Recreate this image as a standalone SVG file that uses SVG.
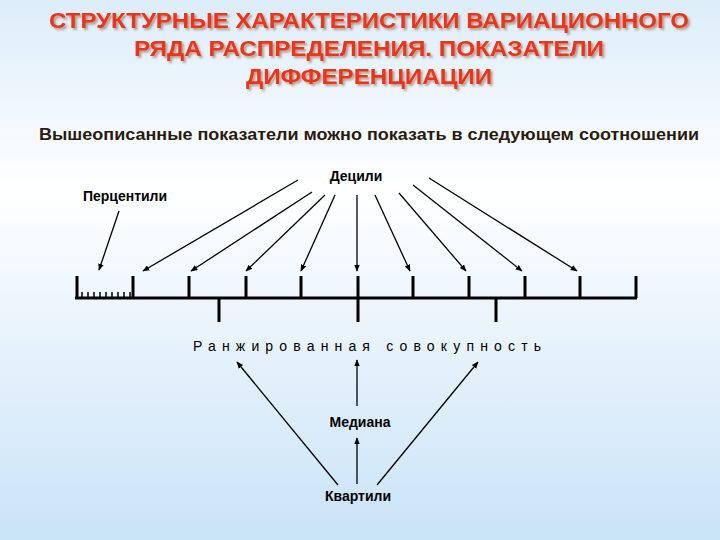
<svg xmlns="http://www.w3.org/2000/svg" width="720" height="540" viewBox="0 0 720 540">
<defs>
<linearGradient id="bg" x1="0" y1="0" x2="0" y2="1">
<stop offset="0" stop-color="#dcedf9"/><stop offset="0.35" stop-color="#ffffff"/><stop offset="1" stop-color="#c9e3f7"/>
</linearGradient>
<filter id="sh" x="-5%" y="-20%" width="110%" height="150%">
<feDropShadow dx="2" dy="2" stdDeviation="0.8" flood-color="#7a2a10" flood-opacity="0.45"/>
</filter>
<marker id="ah" viewBox="0 0 10 10" refX="9" refY="5" markerWidth="7" markerHeight="7" orient="auto" markerUnits="userSpaceOnUse">
<path d="M0,1 L10,5 L0,9 z" fill="#000"/></marker>
<style>
.t{font-family:"Liberation Sans",Arial,sans-serif;font-weight:bold;font-size:22px;fill:#e8341c;text-anchor:middle}
.l{font-family:"Liberation Sans",Arial,sans-serif;font-size:14px;fill:#000;text-anchor:middle}
.a{stroke:#000;stroke-width:1.3;marker-end:url(#ah);fill:none}
.k{stroke:#000;stroke-width:3;fill:none}
</style>
</defs>
<rect width="720" height="540" fill="url(#bg)"/>
<g id="title" filter="url(#sh)">
<text class="t" x="369" y="28" textLength="640" lengthAdjust="spacingAndGlyphs">СТРУКТУРНЫЕ ХАРАКТЕРИСТИКИ ВАРИАЦИОННОГО</text>
<text class="t" x="369" y="56" textLength="470" lengthAdjust="spacingAndGlyphs">РЯДА РАСПРЕДЕЛЕНИЯ. ПОКАЗАТЕЛИ</text>
<text class="t" x="369" y="84" textLength="246" lengthAdjust="spacingAndGlyphs">ДИФФЕРЕНЦИАЦИИ</text>
</g>
<text x="369" y="140" textLength="660" lengthAdjust="spacingAndGlyphs" style="font-family:'Liberation Sans',Arial,sans-serif;font-weight:bold;font-size:16px;fill:#2a1a10;text-anchor:middle">Вышеописанные показатели можно показать в следующем соотношении</text>
<g id="axis">
<path class="k" d="M75,298 H637 M77,276 V298 M133,276 V298 M189,276 V298 M246,276 V298 M301,276 V298 M358,276 V322 M413,276 V298 M469,276 V298 M525,276 V298 M580,276 V298 M636,276 V298 M219,298 V322 M496,298 V322"/>
<path stroke="#000" stroke-width="1.5" d="M82,292 V298 M88,292 V298 M94,292 V298 M100,292 V298 M106,292 V298 M112,292 V298 M118,292 V298 M124,292 V298 M130,292 V298"/>
</g>
<g id="decili"><text class="l" x="356" y="181" style="font-weight:bold">Децили</text></g>
<g id="percentili"><text class="l" x="125" y="201" style="font-weight:bold">Перцентили</text></g>
<g id="rank"><text class="l" x="367" y="351" textLength="348" lengthAdjust="spacing">Ранжированная совокупность</text></g>
<g id="mediana"><text class="l" x="360" y="427" style="font-weight:bold">Медиана</text></g>
<g id="kvartili"><text class="l" x="358" y="501" style="font-weight:bold">Квартили</text></g>
<g id="connectors">
<line class="a" x1="119" y1="211" x2="99" y2="270"/>
<line class="a" x1="298" y1="180" x2="143" y2="271"/>
<line class="a" x1="312" y1="192" x2="191" y2="271"/>
<line class="a" x1="325" y1="195" x2="246" y2="271"/>
<line class="a" x1="335" y1="195" x2="301" y2="271"/>
<line class="a" x1="357" y1="195" x2="357" y2="271"/>
<line class="a" x1="375" y1="195" x2="410" y2="271"/>
<line class="a" x1="399" y1="193" x2="466" y2="271"/>
<line class="a" x1="413" y1="185" x2="522" y2="271"/>
<line class="a" x1="429" y1="178" x2="577" y2="271"/>
<line class="a" x1="357" y1="406" x2="357" y2="360"/>
<line class="a" x1="357" y1="484" x2="357" y2="438"/>
<line class="a" x1="338" y1="485" x2="237" y2="362"/>
<line class="a" x1="377" y1="485" x2="478" y2="362"/>
</g>
</svg>
